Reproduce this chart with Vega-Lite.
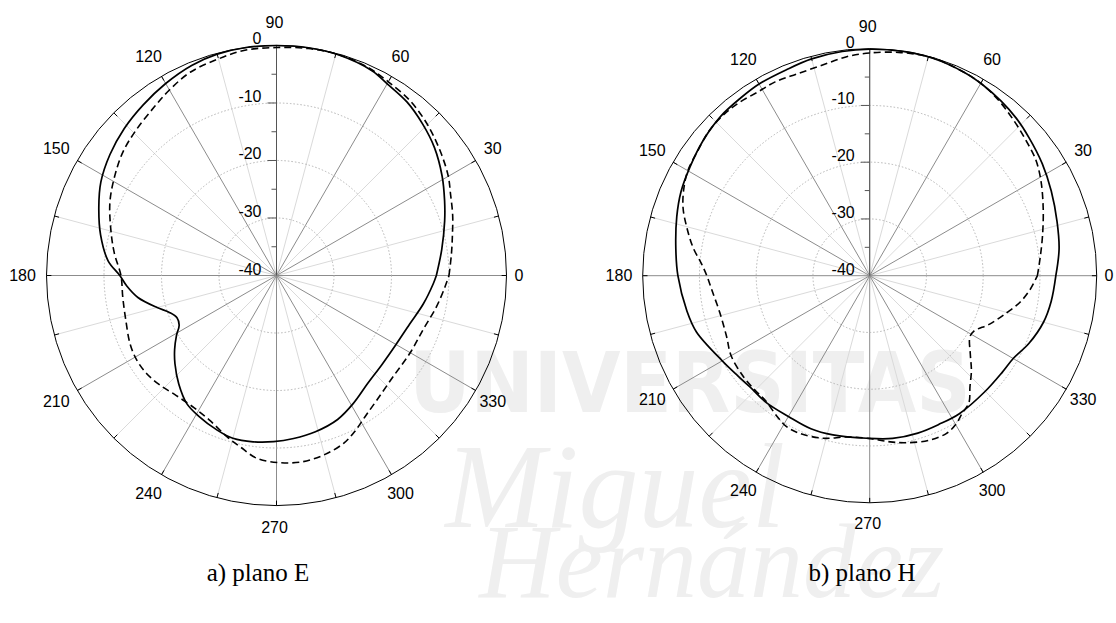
{
  "$schema": "https://vega.github.io/schema/vega-lite/v6.json",
  "width": 1116,
  "height": 623,
  "padding": 0,
  "autosize": {"type": "none"},
  "background": "white",
  "config": {"view": {"stroke": null}, "axis": {"disable": true}, "legend": {"disable": true}},
  "datasets": {
    "radios": [{"ang":0},{"ang":15},{"ang":30},{"ang":45},{"ang":60},{"ang":75},{"ang":90},{"ang":105},{"ang":120},{"ang":135},{"ang":150},{"ang":165},{"ang":180},{"ang":195},{"ang":210},{"ang":225},{"ang":240},{"ang":255},{"ang":270},{"ang":285},{"ang":300},{"ang":315},{"ang":330},{"ang":345}],
    "marcas": [{"db":-35},{"db":-30},{"db":-25},{"db":-20},{"db":-15},{"db":-10},{"db":-5}],
    "etiquetas_db": [{"db":-40,"t":"-40"},{"db":-30,"t":"-30"},{"db":-20,"t":"-20"},{"db":-10,"t":"-10"},{"db":0,"t":"0"}],
    "etiquetas_ang": [{"ang":0,"t":"0"},{"ang":30,"t":"30"},{"ang":60,"t":"60"},{"ang":90,"t":"90"},{"ang":120,"t":"120"},{"ang":150,"t":"150"},{"ang":180,"t":"180"},{"ang":210,"t":"210"},{"ang":240,"t":"240"},{"ang":270,"t":"270"},{"ang":300,"t":"300"},{"ang":330,"t":"330"}],
    "anillos": [{"db":-30},{"db":-20},{"db":-10}],
    "borde": [{"db":0}],
    "planoE_continua": [{"ang":0,"db":-12.2},{"ang":9,"db":-10.9},{"ang":18,"db":-9.25},{"ang":24,"db":-8.0},{"ang":31,"db":-6.4},{"ang":39,"db":-4.65},{"ang":46,"db":-3.4},{"ang":53,"db":-2.25},{"ang":60,"db":-1.5},{"ang":65,"db":-0.7},{"ang":74,"db":-0.15},{"ang":82,"db":0},{"ang":90,"db":0},{"ang":98,"db":0},{"ang":105,"db":-0.15},{"ang":112,"db":-0.6},{"ang":120,"db":-1.45},{"ang":128,"db":-2.35},{"ang":136,"db":-3.2},{"ang":144,"db":-4.2},{"ang":152,"db":-5.4},{"ang":159,"db":-6.9},{"ang":167,"db":-8.6},{"ang":175,"db":-10.6},{"ang":180,"db":-12.75},{"ang":184,"db":-13.9},{"ang":189,"db":-15.6},{"ang":195,"db":-18.5},{"ang":199,"db":-20.3},{"ang":203,"db":-21.2},{"ang":207,"db":-21.0},{"ang":211,"db":-19.7},{"ang":216,"db":-18.1},{"ang":221,"db":-16.6},{"ang":228,"db":-14.6},{"ang":235,"db":-12.8},{"ang":241,"db":-12.05},{"ang":249,"db":-11.2},{"ang":255,"db":-10.7},{"ang":262,"db":-10.8},{"ang":269,"db":-11.1},{"ang":276,"db":-11.5},{"ang":284,"db":-12.0},{"ang":293,"db":-12.8},{"ang":301,"db":-14.05},{"ang":310,"db":-15.4},{"ang":320,"db":-16.0},{"ang":330,"db":-16.0},{"ang":340,"db":-15.35},{"ang":349,"db":-14.0},{"ang":357,"db":-12.7},{"ang":360,"db":-12.2}],
    "planoE_discontinua": [{"ang":0,"db":-10.0},{"ang":7,"db":-9.35},{"ang":13,"db":-8.6},{"ang":19,"db":-7.6},{"ang":25,"db":-6.6},{"ang":30,"db":-5.5},{"ang":36,"db":-4.45},{"ang":42,"db":-3.4},{"ang":47,"db":-2.55},{"ang":53,"db":-1.7},{"ang":60,"db":-1.1},{"ang":66,"db":-0.5},{"ang":74,"db":-0.1},{"ang":82,"db":-0.15},{"ang":90,"db":-0.35},{"ang":98,"db":-0.45},{"ang":105,"db":-1.0},{"ang":113,"db":-1.6},{"ang":120,"db":-2.75},{"ang":126,"db":-3.8},{"ang":134,"db":-4.85},{"ang":141,"db":-5.7},{"ang":148,"db":-6.9},{"ang":156,"db":-8.3},{"ang":164,"db":-10.0},{"ang":172,"db":-11.5},{"ang":180,"db":-12.95},{"ang":188,"db":-13.0},{"ang":196,"db":-12.7},{"ang":205,"db":-11.9},{"ang":211,"db":-11.6},{"ang":217,"db":-11.7},{"ang":223,"db":-12.15},{"ang":230,"db":-12.8},{"ang":238,"db":-12.9},{"ang":245,"db":-12.3},{"ang":253,"db":-10.65},{"ang":258,"db":-9.55},{"ang":264,"db":-8.0},{"ang":271,"db":-7.45},{"ang":278,"db":-7.3},{"ang":285,"db":-7.75},{"ang":292,"db":-8.6},{"ang":297,"db":-9.75},{"ang":302,"db":-11.0},{"ang":309,"db":-12.2},{"ang":319,"db":-13.15},{"ang":330,"db":-13.15},{"ang":340,"db":-12.8},{"ang":349,"db":-11.65},{"ang":356,"db":-10.65},{"ang":360,"db":-10.0}],
    "planoH_continua": [{"ang":0,"db":-7.2},{"ang":8,"db":-6.3},{"ang":16,"db":-5.65},{"ang":25,"db":-4.7},{"ang":33,"db":-3.75},{"ang":41,"db":-2.85},{"ang":47,"db":-2.1},{"ang":53,"db":-1.5},{"ang":59,"db":-0.95},{"ang":65,"db":-0.5},{"ang":74,"db":-0.1},{"ang":82,"db":-0.05},{"ang":90,"db":-0.1},{"ang":97,"db":-0.2},{"ang":105,"db":-0.45},{"ang":112,"db":-0.85},{"ang":120,"db":-1.0},{"ang":126,"db":-1.3},{"ang":133,"db":-1.55},{"ang":141,"db":-2.2},{"ang":149,"db":-3.0},{"ang":156,"db":-3.6},{"ang":163,"db":-4.45},{"ang":172,"db":-5.5},{"ang":180,"db":-6.2},{"ang":191,"db":-7.2},{"ang":198,"db":-7.9},{"ang":210,"db":-10.0},{"ang":216,"db":-10.7},{"ang":223,"db":-11.2},{"ang":231,"db":-11.15},{"ang":240,"db":-11.35},{"ang":249,"db":-11.1},{"ang":257,"db":-11.2},{"ang":269,"db":-11.35},{"ang":278,"db":-11.05},{"ang":287,"db":-11.0},{"ang":295,"db":-11.1},{"ang":303,"db":-11.0},{"ang":315,"db":-11.2},{"ang":324,"db":-11.1},{"ang":330,"db":-10.8},{"ang":337,"db":-9.5},{"ang":345,"db":-8.3},{"ang":352,"db":-7.7},{"ang":360,"db":-7.2}],
    "planoH_discontinua": [{"ang":0,"db":-10.45},{"ang":6,"db":-9.8},{"ang":13,"db":-8.75},{"ang":21,"db":-7.25},{"ang":29,"db":-5.5},{"ang":35,"db":-4.3},{"ang":41.5,"db":-3.5},{"ang":47,"db":-2.7},{"ang":53,"db":-1.75},{"ang":59,"db":-0.95},{"ang":65,"db":-0.5},{"ang":74,"db":-0.05},{"ang":82,"db":-0.3},{"ang":90,"db":-0.75},{"ang":96,"db":-1.2},{"ang":103,"db":-2.0},{"ang":110,"db":-2.2},{"ang":116,"db":-2.0},{"ang":121,"db":-2.1},{"ang":127,"db":-1.8},{"ang":132,"db":-1.7},{"ang":138,"db":-1.9},{"ang":144,"db":-2.55},{"ang":150,"db":-3.0},{"ang":155,"db":-3.85},{"ang":160,"db":-5.0},{"ang":165,"db":-6.6},{"ang":171,"db":-8.5},{"ang":176,"db":-10.3},{"ang":180,"db":-11.3},{"ang":185,"db":-12.05},{"ang":194,"db":-12.8},{"ang":203,"db":-12.6},{"ang":210,"db":-11.8},{"ang":219,"db":-11.5},{"ang":225,"db":-11.45},{"ang":230,"db":-11.35},{"ang":237,"db":-10.25},{"ang":241,"db":-9.65},{"ang":246,"db":-9.6},{"ang":254,"db":-10.2},{"ang":262,"db":-11.3},{"ang":270,"db":-11.3},{"ang":277,"db":-10.5},{"ang":282.5,"db":-9.85},{"ang":290,"db":-9.15},{"ang":296,"db":-9.1},{"ang":300,"db":-9.7},{"ang":304,"db":-10.8},{"ang":308,"db":-11.6},{"ang":312,"db":-13.6},{"ang":317,"db":-15.5},{"ang":322,"db":-17.5},{"ang":328.5,"db":-19.3},{"ang":332,"db":-19.2},{"ang":338,"db":-17.2},{"ang":345,"db":-14.95},{"ang":350,"db":-13.1},{"ang":355,"db":-11.65},{"ang":360,"db":-10.45}],
    "marca_agua": [{"t":"UNIVERSITAS","px":71.9,"py":-19.4}],
    "marca_agua2": [{"t":"Miguel","px":58.9,"py":-37.5}],
    "marca_agua3": [{"t":"Hernández","px":75.7,"py":-50.4}],
    "titulo_E": [{"t":"a) plano E","px":-3.22,"py":-51.74}],
    "titulo_H": [{"t":"b) plano H","px":-1.36,"py":-52.39}]
  },
  "layer": [
    {
      "layer": [
        {"data": {"name": "marca_agua"}, "mark": {"type": "text", "font": "Liberation Sans Narrow, DejaVu Sans Condensed, sans-serif", "fontWeight": "bold", "fontSize": 84, "color": "#efefef", "align": "center", "baseline": "middle"},
         "encoding": {"x": {"field": "px", "type": "quantitative", "scale": {"domain": [-48.087, 146.0], "nice": false, "zero": false}}, "y": {"field": "py", "type": "quantitative", "scale": {"domain": [-60.43, 47.91], "nice": false, "zero": false}}, "text": {"field": "t"}}},
        {"data": {"name": "marca_agua2"}, "mark": {"type": "text", "font": "Liberation Serif", "fontStyle": "italic", "fontSize": 120, "color": "#efefef", "align": "center", "baseline": "middle"},
         "encoding": {"x": {"field": "px", "type": "quantitative", "scale": {"domain": [-48.087, 146.0], "nice": false, "zero": false}}, "y": {"field": "py", "type": "quantitative", "scale": {"domain": [-60.43, 47.91], "nice": false, "zero": false}}, "text": {"field": "t"}}},
        {"data": {"name": "marca_agua3"}, "mark": {"type": "text", "font": "Liberation Serif", "fontStyle": "italic", "fontSize": 106, "color": "#efefef", "align": "center", "baseline": "middle"},
         "encoding": {"x": {"field": "px", "type": "quantitative", "scale": {"domain": [-48.087, 146.0], "nice": false, "zero": false}}, "y": {"field": "py", "type": "quantitative", "scale": {"domain": [-60.43, 47.91], "nice": false, "zero": false}}, "text": {"field": "t"}}},
        {"data": {"name": "radios"}, "transform": [{"filter": "datum.ang % 30 != 0"}, {"calculate": "0", "as": "c"}, {"calculate": "40*cos(datum.ang*PI/180)", "as": "x"}, {"calculate": "40*sin(datum.ang*PI/180)", "as": "y"}],
         "mark": {"type": "rule", "color": "#dadada", "strokeWidth": 1},
         "encoding": {"x": {"field": "c", "type": "quantitative", "scale": {"domain": [-48.087, 146.0], "nice": false, "zero": false}}, "y": {"field": "c", "type": "quantitative", "scale": {"domain": [-60.43, 47.91], "nice": false, "zero": false}}, "x2": {"field": "x"}, "y2": {"field": "y"}}},
        {"data": {"name": "radios"}, "transform": [{"filter": "datum.ang % 30 == 0"}, {"calculate": "0", "as": "c"}, {"calculate": "40*cos(datum.ang*PI/180)", "as": "x"}, {"calculate": "40*sin(datum.ang*PI/180)", "as": "y"}],
         "mark": {"type": "rule", "color": "#8c8c8c", "strokeWidth": 1},
         "encoding": {"x": {"field": "c", "type": "quantitative", "scale": {"domain": [-48.087, 146.0], "nice": false, "zero": false}}, "y": {"field": "c", "type": "quantitative", "scale": {"domain": [-60.43, 47.91], "nice": false, "zero": false}}, "x2": {"field": "x"}, "y2": {"field": "y"}}},
        {"data": {"name": "anillos"}, "transform": [{"calculate": "datum.db + 40", "as": "r"}, {"calculate": "0", "as": "c"}],
         "mark": {"type": "point", "shape": "circle", "filled": false, "opacity": 1, "color": "#b4b4b4", "strokeWidth": 1, "strokeDash": [1.5, 2]},
         "encoding": {"x": {"field": "c", "type": "quantitative", "scale": {"domain": [-48.087, 146.0], "nice": false, "zero": false}}, "y": {"field": "c", "type": "quantitative", "scale": {"domain": [-60.43, 47.91], "nice": false, "zero": false}}, "size": {"field": "r", "type": "quantitative", "scale": {"type": "pow", "exponent": 2, "domain": [0, 40], "range": [0, 211600], "zero": true}}}},
        {"data": {"name": "borde"}, "transform": [{"calculate": "datum.db + 40", "as": "r"}, {"calculate": "0", "as": "c"}],
         "mark": {"type": "point", "shape": "circle", "filled": false, "opacity": 1, "color": "#000000", "strokeWidth": 1},
         "encoding": {"x": {"field": "c", "type": "quantitative", "scale": {"domain": [-48.087, 146.0], "nice": false, "zero": false}}, "y": {"field": "c", "type": "quantitative", "scale": {"domain": [-60.43, 47.91], "nice": false, "zero": false}}, "size": {"field": "r", "type": "quantitative", "scale": {"type": "pow", "exponent": 2, "domain": [0, 40], "range": [0, 211600], "zero": true}}}},
        {"data": {"name": "radios"}, "transform": [{"calculate": "39.15*cos(datum.ang*PI/180)", "as": "x1"}, {"calculate": "39.15*sin(datum.ang*PI/180)", "as": "y1"}, {"calculate": "40*cos(datum.ang*PI/180)", "as": "x"}, {"calculate": "40*sin(datum.ang*PI/180)", "as": "y"}],
         "mark": {"type": "rule", "color": "#000000", "strokeWidth": 1},
         "encoding": {"x": {"field": "x1", "type": "quantitative", "scale": {"domain": [-48.087, 146.0], "nice": false, "zero": false}}, "y": {"field": "y1", "type": "quantitative", "scale": {"domain": [-60.43, 47.91], "nice": false, "zero": false}}, "x2": {"field": "x"}, "y2": {"field": "y"}}},
        {"data": {"name": "borde"}, "transform": [{"calculate": "0", "as": "c"}, {"calculate": "datum.db + 40", "as": "r"}],
         "mark": {"type": "rule", "color": "#555555", "strokeWidth": 1},
         "encoding": {"x": {"field": "c", "type": "quantitative", "scale": {"domain": [-48.087, 146.0], "nice": false, "zero": false}}, "x2": {"field": "c"}, "y": {"field": "c", "type": "quantitative", "scale": {"domain": [-60.43, 47.91], "nice": false, "zero": false}}, "y2": {"field": "r"}}},
        {"data": {"name": "marcas"}, "transform": [{"filter": "datum.db % 10 == 0"}, {"calculate": "datum.db + 40", "as": "r"}, {"calculate": "0", "as": "x0"}, {"calculate": "-1.57", "as": "x1"}],
         "mark": {"type": "rule", "color": "#555555", "strokeWidth": 1},
         "encoding": {"x": {"field": "x0", "type": "quantitative", "scale": {"domain": [-48.087, 146.0], "nice": false, "zero": false}}, "x2": {"field": "x1"}, "y": {"field": "r", "type": "quantitative", "scale": {"domain": [-60.43, 47.91], "nice": false, "zero": false}}, "y2": {"field": "r"}}},
        {"data": {"name": "marcas"}, "transform": [{"filter": "datum.db % 10 != 0"}, {"calculate": "datum.db + 40", "as": "r"}, {"calculate": "0", "as": "x0"}, {"calculate": "-0.87", "as": "x1"}],
         "mark": {"type": "rule", "color": "#555555", "strokeWidth": 1},
         "encoding": {"x": {"field": "x0", "type": "quantitative", "scale": {"domain": [-48.087, 146.0], "nice": false, "zero": false}}, "x2": {"field": "x1"}, "y": {"field": "r", "type": "quantitative", "scale": {"domain": [-60.43, 47.91], "nice": false, "zero": false}}, "y2": {"field": "r"}}},
        {"data": {"name": "etiquetas_db"}, "transform": [{"calculate": "datum.db + 40", "as": "r"}, {"calculate": "0", "as": "c"}],
         "mark": {"type": "text", "font": "Liberation Sans", "fontSize": 16, "color": "#000000", "align": "right", "baseline": "middle", "dx": -15, "dy": -6},
         "encoding": {"x": {"field": "c", "type": "quantitative", "scale": {"domain": [-48.087, 146.0], "nice": false, "zero": false}}, "y": {"field": "r", "type": "quantitative", "scale": {"domain": [-60.43, 47.91], "nice": false, "zero": false}}, "text": {"field": "t"}}},
        {"data": {"name": "etiquetas_ang"}, "transform": [{"calculate": "datum.ang == 0 ? 42.5 : 43.83", "as": "rl"}, {"calculate": "datum.rl*cos(datum.ang*PI/180)", "as": "x"}, {"calculate": "datum.rl*sin(datum.ang*PI/180)", "as": "y"}],
         "mark": {"type": "text", "font": "Liberation Sans", "fontSize": 16, "color": "#000000", "align": "center", "baseline": "middle", "dx": -2},
         "encoding": {"x": {"field": "x", "type": "quantitative", "scale": {"domain": [-48.087, 146.0], "nice": false, "zero": false}}, "y": {"field": "y", "type": "quantitative", "scale": {"domain": [-60.43, 47.91], "nice": false, "zero": false}}, "text": {"field": "t"}}},
        {"data": {"name": "planoE_discontinua"}, "transform": [{"calculate": "(datum.db + 40)*cos(datum.ang*PI/180)", "as": "x"}, {"calculate": "(datum.db + 40)*sin(datum.ang*PI/180)", "as": "y"}],
         "mark": {"type": "line", "color": "#000000", "strokeWidth": 1.6, "strokeDash": [7, 4], "interpolate": "catmull-rom"},
         "encoding": {"x": {"field": "x", "type": "quantitative", "scale": {"domain": [-48.087, 146.0], "nice": false, "zero": false}}, "y": {"field": "y", "type": "quantitative", "scale": {"domain": [-60.43, 47.91], "nice": false, "zero": false}}, "order": {"field": "ang", "type": "quantitative"}}},
        {"data": {"name": "planoE_continua"}, "transform": [{"calculate": "(datum.db + 40)*cos(datum.ang*PI/180)", "as": "x"}, {"calculate": "(datum.db + 40)*sin(datum.ang*PI/180)", "as": "y"}],
         "mark": {"type": "line", "color": "#000000", "strokeWidth": 1.7, "interpolate": "catmull-rom"},
         "encoding": {"x": {"field": "x", "type": "quantitative", "scale": {"domain": [-48.087, 146.0], "nice": false, "zero": false}}, "y": {"field": "y", "type": "quantitative", "scale": {"domain": [-60.43, 47.91], "nice": false, "zero": false}}, "order": {"field": "ang", "type": "quantitative"}}},
        {"data": {"name": "titulo_E"}, "mark": {"type": "text", "font": "Liberation Serif", "fontSize": 25, "color": "#000000", "align": "center", "baseline": "middle"},
         "encoding": {"x": {"field": "px", "type": "quantitative", "scale": {"domain": [-48.087, 146.0], "nice": false, "zero": false}}, "y": {"field": "py", "type": "quantitative", "scale": {"domain": [-60.43, 47.91], "nice": false, "zero": false}}, "text": {"field": "t"}}}
      ]
    },
    {
      "layer": [
        {"data": {"name": "radios"}, "transform": [{"filter": "datum.ang % 30 != 0"}, {"calculate": "0", "as": "c"}, {"calculate": "40*cos(datum.ang*PI/180)", "as": "x"}, {"calculate": "40*sin(datum.ang*PI/180)", "as": "y"}],
         "mark": {"type": "rule", "color": "#dadada", "strokeWidth": 1},
         "encoding": {"x": {"field": "c", "type": "quantitative", "scale": {"domain": [-153.25, 43.40], "nice": false, "zero": false}}, "y": {"field": "c", "type": "quantitative", "scale": {"domain": [-61.2, 48.58], "nice": false, "zero": false}}, "x2": {"field": "x"}, "y2": {"field": "y"}}},
        {"data": {"name": "radios"}, "transform": [{"filter": "datum.ang % 30 == 0"}, {"calculate": "0", "as": "c"}, {"calculate": "40*cos(datum.ang*PI/180)", "as": "x"}, {"calculate": "40*sin(datum.ang*PI/180)", "as": "y"}],
         "mark": {"type": "rule", "color": "#8c8c8c", "strokeWidth": 1},
         "encoding": {"x": {"field": "c", "type": "quantitative", "scale": {"domain": [-153.25, 43.40], "nice": false, "zero": false}}, "y": {"field": "c", "type": "quantitative", "scale": {"domain": [-61.2, 48.58], "nice": false, "zero": false}}, "x2": {"field": "x"}, "y2": {"field": "y"}}},
        {"data": {"name": "anillos"}, "transform": [{"calculate": "datum.db + 40", "as": "r"}, {"calculate": "0", "as": "c"}],
         "mark": {"type": "point", "shape": "circle", "filled": false, "opacity": 1, "color": "#b4b4b4", "strokeWidth": 1, "strokeDash": [1.5, 2]},
         "encoding": {"x": {"field": "c", "type": "quantitative", "scale": {"domain": [-153.25, 43.40], "nice": false, "zero": false}}, "y": {"field": "c", "type": "quantitative", "scale": {"domain": [-61.2, 48.58], "nice": false, "zero": false}}, "size": {"field": "r", "type": "quantitative", "scale": {"type": "pow", "exponent": 2, "domain": [0, 40], "range": [0, 206116], "zero": true}}}},
        {"data": {"name": "borde"}, "transform": [{"calculate": "datum.db + 40", "as": "r"}, {"calculate": "0", "as": "c"}],
         "mark": {"type": "point", "shape": "circle", "filled": false, "opacity": 1, "color": "#000000", "strokeWidth": 1},
         "encoding": {"x": {"field": "c", "type": "quantitative", "scale": {"domain": [-153.25, 43.40], "nice": false, "zero": false}}, "y": {"field": "c", "type": "quantitative", "scale": {"domain": [-61.2, 48.58], "nice": false, "zero": false}}, "size": {"field": "r", "type": "quantitative", "scale": {"type": "pow", "exponent": 2, "domain": [0, 40], "range": [0, 206116], "zero": true}}}},
        {"data": {"name": "radios"}, "transform": [{"calculate": "39.15*cos(datum.ang*PI/180)", "as": "x1"}, {"calculate": "39.15*sin(datum.ang*PI/180)", "as": "y1"}, {"calculate": "40*cos(datum.ang*PI/180)", "as": "x"}, {"calculate": "40*sin(datum.ang*PI/180)", "as": "y"}],
         "mark": {"type": "rule", "color": "#000000", "strokeWidth": 1},
         "encoding": {"x": {"field": "x1", "type": "quantitative", "scale": {"domain": [-153.25, 43.40], "nice": false, "zero": false}}, "y": {"field": "y1", "type": "quantitative", "scale": {"domain": [-61.2, 48.58], "nice": false, "zero": false}}, "x2": {"field": "x"}, "y2": {"field": "y"}}},
        {"data": {"name": "borde"}, "transform": [{"calculate": "0", "as": "c"}, {"calculate": "datum.db + 40", "as": "r"}],
         "mark": {"type": "rule", "color": "#555555", "strokeWidth": 1},
         "encoding": {"x": {"field": "c", "type": "quantitative", "scale": {"domain": [-153.25, 43.40], "nice": false, "zero": false}}, "x2": {"field": "c"}, "y": {"field": "c", "type": "quantitative", "scale": {"domain": [-61.2, 48.58], "nice": false, "zero": false}}, "y2": {"field": "r"}}},
        {"data": {"name": "marcas"}, "transform": [{"filter": "datum.db % 10 == 0"}, {"calculate": "datum.db + 40", "as": "r"}, {"calculate": "0", "as": "x0"}, {"calculate": "-1.57", "as": "x1"}],
         "mark": {"type": "rule", "color": "#555555", "strokeWidth": 1},
         "encoding": {"x": {"field": "x0", "type": "quantitative", "scale": {"domain": [-153.25, 43.40], "nice": false, "zero": false}}, "x2": {"field": "x1"}, "y": {"field": "r", "type": "quantitative", "scale": {"domain": [-61.2, 48.58], "nice": false, "zero": false}}, "y2": {"field": "r"}}},
        {"data": {"name": "marcas"}, "transform": [{"filter": "datum.db % 10 != 0"}, {"calculate": "datum.db + 40", "as": "r"}, {"calculate": "0", "as": "x0"}, {"calculate": "-0.87", "as": "x1"}],
         "mark": {"type": "rule", "color": "#555555", "strokeWidth": 1},
         "encoding": {"x": {"field": "x0", "type": "quantitative", "scale": {"domain": [-153.25, 43.40], "nice": false, "zero": false}}, "x2": {"field": "x1"}, "y": {"field": "r", "type": "quantitative", "scale": {"domain": [-61.2, 48.58], "nice": false, "zero": false}}, "y2": {"field": "r"}}},
        {"data": {"name": "etiquetas_db"}, "transform": [{"calculate": "datum.db + 40", "as": "r"}, {"calculate": "0", "as": "c"}],
         "mark": {"type": "text", "font": "Liberation Sans", "fontSize": 16, "color": "#000000", "align": "right", "baseline": "middle", "dx": -15, "dy": -6},
         "encoding": {"x": {"field": "c", "type": "quantitative", "scale": {"domain": [-153.25, 43.40], "nice": false, "zero": false}}, "y": {"field": "r", "type": "quantitative", "scale": {"domain": [-61.2, 48.58], "nice": false, "zero": false}}, "text": {"field": "t"}}},
        {"data": {"name": "etiquetas_ang"}, "transform": [{"calculate": "datum.ang == 0 ? 42.5 : 43.83", "as": "rl"}, {"calculate": "datum.rl*cos(datum.ang*PI/180)", "as": "x"}, {"calculate": "datum.rl*sin(datum.ang*PI/180)", "as": "y"}],
         "mark": {"type": "text", "font": "Liberation Sans", "fontSize": 16, "color": "#000000", "align": "center", "baseline": "middle", "dx": -2},
         "encoding": {"x": {"field": "x", "type": "quantitative", "scale": {"domain": [-153.25, 43.40], "nice": false, "zero": false}}, "y": {"field": "y", "type": "quantitative", "scale": {"domain": [-61.2, 48.58], "nice": false, "zero": false}}, "text": {"field": "t"}}},
        {"data": {"name": "planoH_discontinua"}, "transform": [{"calculate": "(datum.db + 40)*cos(datum.ang*PI/180)", "as": "x"}, {"calculate": "(datum.db + 40)*sin(datum.ang*PI/180)", "as": "y"}],
         "mark": {"type": "line", "color": "#000000", "strokeWidth": 1.6, "strokeDash": [7, 4], "interpolate": "catmull-rom"},
         "encoding": {"x": {"field": "x", "type": "quantitative", "scale": {"domain": [-153.25, 43.40], "nice": false, "zero": false}}, "y": {"field": "y", "type": "quantitative", "scale": {"domain": [-61.2, 48.58], "nice": false, "zero": false}}, "order": {"field": "ang", "type": "quantitative"}}},
        {"data": {"name": "planoH_continua"}, "transform": [{"calculate": "(datum.db + 40)*cos(datum.ang*PI/180)", "as": "x"}, {"calculate": "(datum.db + 40)*sin(datum.ang*PI/180)", "as": "y"}],
         "mark": {"type": "line", "color": "#000000", "strokeWidth": 1.7, "interpolate": "catmull-rom"},
         "encoding": {"x": {"field": "x", "type": "quantitative", "scale": {"domain": [-153.25, 43.40], "nice": false, "zero": false}}, "y": {"field": "y", "type": "quantitative", "scale": {"domain": [-61.2, 48.58], "nice": false, "zero": false}}, "order": {"field": "ang", "type": "quantitative"}}},
        {"data": {"name": "titulo_H"}, "mark": {"type": "text", "font": "Liberation Serif", "fontSize": 25, "color": "#000000", "align": "center", "baseline": "middle"},
         "encoding": {"x": {"field": "px", "type": "quantitative", "scale": {"domain": [-153.25, 43.40], "nice": false, "zero": false}}, "y": {"field": "py", "type": "quantitative", "scale": {"domain": [-61.2, 48.58], "nice": false, "zero": false}}, "text": {"field": "t"}}}
      ]
    }
  ],
  "resolve": {"scale": {"x": "independent", "y": "independent", "size": "independent"}}
}
